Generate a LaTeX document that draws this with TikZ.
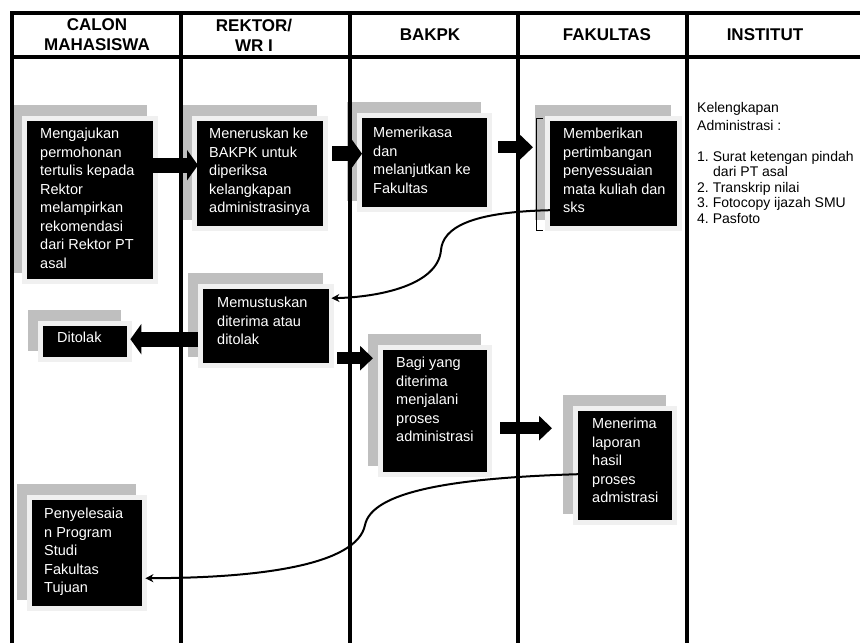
\documentclass[tikz,border=0pt]{standalone}
\usepackage{fontspec}
\setmainfont{Liberation Sans}
\usetikzlibrary{arrows.meta,backgrounds}

\tikzset{
  garis/.style={line width=4pt},
  judul/.style={font=\bfseries\fontsize{17}{20}\selectfont, align=center},
  kotak/.style={fill=black, anchor=north west, inner sep=0pt},
  isi/.style={text=white, anchor=north west, align=left, inner sep=0pt,
              font=\fontsize{14.5}{18.5}\selectfont},
  bayang/.style={fill=black!25},
  tepi/.style={fill=black!6},
  panah/.style={line width=15pt, -{Triangle[length=11pt,width=30pt]}},
  panahkecil/.style={line width=12pt, -{Triangle[length=13pt,width=24pt]}},
  lengkung/.style={line width=2pt, -{Stealth[length=8pt,width=8pt]}},
  catatan/.style={anchor=north west, align=left, inner sep=0pt}
}

\begin{document}
\begin{tikzpicture}[x=1pt,y=-1pt]
        \useasboundingbox (0,0) rectangle (860,643);

        %Tabel
        \draw[garis] (11.5,643) -- (11.5,13) -- (860,13);
        \draw[garis] (11.5,56.5) -- (860,56.5);
        \foreach \x in {181,350,517.5,687}
          \draw[garis] (\x,13) -- (\x,643);

        %Judul kolom
        \node[judul] (h1) at (97,35)  {CALON\\MAHASISWA};
        \node[judul] (h2) at (254,35) {REKTOR/\\WR I};
        \node[judul] (h3) at (430,35) {BAKPK};
        \node[judul] (h4) at (607,35) {FAKULTAS};
        \node[judul] (h5) at (765,35) {INSTITUT};

        %Kotak proses
        \node[kotak, minimum width=126pt, minimum height=158pt] (b1) at (27,121)  {};
        \node[kotak, minimum width=126pt, minimum height=105pt] (b2) at (197,121) {};
        \node[kotak, minimum width=125pt, minimum height=89pt]  (b3) at (362,118) {};
        \node[kotak, minimum width=127pt, minimum height=105pt] (b4) at (550,121) {};
        \node[kotak, minimum width=126pt, minimum height=74pt]  (b5) at (203,289) {};
        \node[kotak, minimum width=84pt,  minimum height=31pt]  (b6) at (43,326)  {};
        \node[kotak, minimum width=104pt, minimum height=122pt] (b7) at (383,350) {};
        \node[kotak, minimum width=94pt,  minimum height=109pt] (b8) at (578,411) {};
        \node[kotak, minimum width=110pt, minimum height=106pt] (b9) at (32,500)  {};

        %Bayangan kotak
        \begin{scope}[on background layer]
          \foreach \b in {b1,b2,b3,b4,b5,b6,b7,b8,b9}{
            \fill[bayang] ([shift={(-15,-16)}]\b.north west) rectangle ([shift={(-6,-6)}]\b.south east);
            \fill[tepi] ([shift={(-5,-5)}]\b.north west) rectangle ([shift={(5,5)}]\b.south east);
          }
        \end{scope}
        \draw[line width=1pt] (543,118) -- (536,118) -- (536,230) -- (543,230);

        %Isi kotak
        \node[isi] (t1) at ([shift={(13,7)}]b1.north west)
          {Mengajukan\\permohonan\\tertulis kepada\\Rektor\\melampirkan\\rekomendasi\\dari Rektor PT\\asal};
        \node[isi] (t2) at ([shift={(12,7)}]b2.north west)
          {Meneruskan ke\\BAKPK untuk\\diperiksa\\kelangkapan\\administrasinya};
        \node[isi] (t3) at ([shift={(11,9)}]b3.north west)
          {Memerikasa\\dan\\melanjutkan ke\\Fakultas};
        \node[isi] (t4) at ([shift={(13,7)}]b4.north west)
          {Memberikan\\pertimbangan\\penyessuaian\\mata kuliah dan\\sks};
        \node[isi] (t5) at ([shift={(14,8)}]b5.north west)
          {Memustuskan\\diterima atau\\ditolak};
        \node[isi] (t6) at ([shift={(14,6)}]b6.north west) {Ditolak};
        \node[isi] (t7) at ([shift={(13,7)}]b7.north west)
          {Bagi yang\\diterima\\menjalani\\proses\\administrasi};
        \node[isi] (t8) at ([shift={(14,7)}]b8.north west)
          {Menerima\\laporan\\hasil\\proses\\admistrasi};
        \node[isi] (t9) at ([shift={(12,8)}]b9.north west)
          {Penyelesaia\\n Program\\Studi\\Fakultas\\Tujuan};

        %Catatan institut
        \node[catatan, font=\fontsize{14}{18}\selectfont] (i1) at (697,102)
          {Kelengkapan\\Administrasi :};
        \node[catatan, font=\fontsize{14}{15.5}\selectfont] (i2) at (697,151)
          {1.~Surat ketengan pindah\\\hspace*{16pt}dari PT asal\\2.~Transkrip nilai\\3.~Fotocopy ijazah SMU\\4.~Pasfoto};

        %Panah
        \draw[panah]      ([shift={(0,-35)}]b1.east)     -- ([shift={(1,-8.5)}]b2.west);
        \draw[panah]      ([shift={(9,-20)}]b2.east)     -- ([shift={(0,-9)}]b3.west);
        \draw[panahkecil] ([shift={(11,-15.5)}]b3.east)  -- ([shift={(-17,-26.5)}]b4.west);
        \draw[panah]      ([shift={(-5,13)}]b5.west)     -- ([shift={(3,-2.5)}]b6.east);
        \draw[panahkecil] ([shift={(8,32)}]b5.east)      -- ([shift={(-10,-53)}]b7.west);
        \draw[panahkecil] ([shift={(13,17)}]b7.east)     -- ([shift={(-26,-37.5)}]b8.west);

        %Lengkung
        \draw[lengkung] ([shift={(0,36.5)}]b4.west) .. controls (470,212) and (443,228) .. (441,250)
          .. controls (438,285) and (380,297) .. ([shift={(2,-28)}]b5.east);
        \draw[lengkung] ([shift={(0,8.5)}]b8.west) .. controls (450,478) and (372,492) .. (365,525)
          .. controls (357,565) and (260,578) .. ([shift={(3,25)}]b9.east);

\end{tikzpicture}
\end{document}
